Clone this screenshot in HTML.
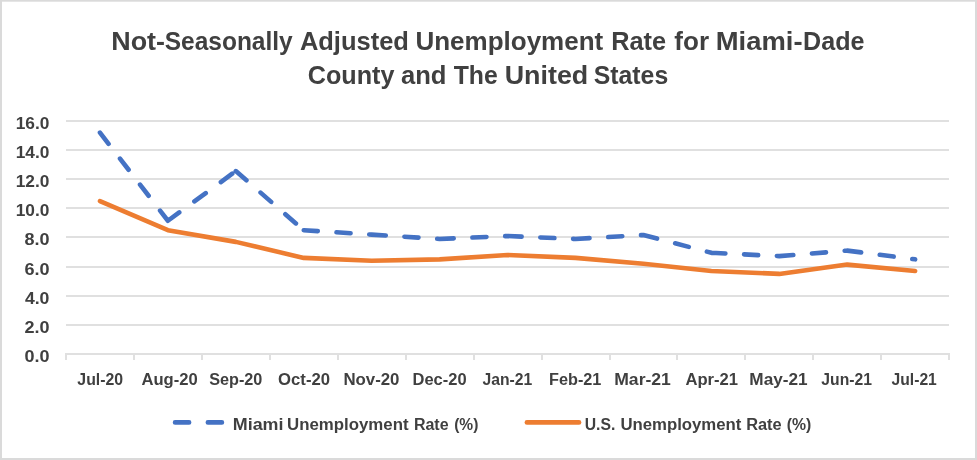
<!DOCTYPE html>
<html><head><meta charset="utf-8"><title>Unemployment Rate Chart</title>
<style>html,body{margin:0;padding:0;background:#fff;}body{width:977px;height:460px;overflow:hidden;}svg{display:block;will-change:transform;}text{font-family:"Liberation Sans",sans-serif;font-weight:bold;fill:#404040;}</style></head><body>
<svg width="977" height="460" viewBox="0 0 977 460">
<rect x="0" y="0" width="977" height="460" fill="#ffffff"/>
<rect x="0" y="0" width="977" height="1.7" fill="#dadada"/>
<rect x="0" y="458" width="977" height="2" fill="#dadada"/>
<rect x="0" y="0" width="2" height="460" fill="#dadada"/>
<rect x="975" y="0" width="2" height="460" fill="#dadada"/>
<rect x="66" y="120" width="883" height="2" fill="#e0e0e0"/>
<rect x="66" y="149" width="883" height="2" fill="#e0e0e0"/>
<rect x="66" y="178" width="883" height="2" fill="#e0e0e0"/>
<rect x="66" y="207" width="883" height="2" fill="#e0e0e0"/>
<rect x="66" y="236" width="883" height="2" fill="#e0e0e0"/>
<rect x="66" y="266" width="883" height="2" fill="#e0e0e0"/>
<rect x="66" y="295" width="883" height="2" fill="#e0e0e0"/>
<rect x="66" y="324" width="883" height="2" fill="#e0e0e0"/>
<rect x="66" y="353" width="883.5" height="2" fill="#e0e0e0"/>
<rect x="65" y="353" width="2" height="7" fill="#e0e0e0"/>
<rect x="133" y="353" width="2" height="7" fill="#e0e0e0"/>
<rect x="201" y="353" width="2" height="7" fill="#e0e0e0"/>
<rect x="269" y="353" width="2" height="7" fill="#e0e0e0"/>
<rect x="337" y="353" width="2" height="7" fill="#e0e0e0"/>
<rect x="405" y="353" width="2" height="7" fill="#e0e0e0"/>
<rect x="473" y="353" width="2" height="7" fill="#e0e0e0"/>
<rect x="541" y="353" width="2" height="7" fill="#e0e0e0"/>
<rect x="609" y="353" width="2" height="7" fill="#e0e0e0"/>
<rect x="676" y="353" width="2" height="7" fill="#e0e0e0"/>
<rect x="744" y="353" width="2" height="7" fill="#e0e0e0"/>
<rect x="812" y="353" width="2" height="7" fill="#e0e0e0"/>
<rect x="880" y="353" width="2" height="7" fill="#e0e0e0"/>
<rect x="948" y="353" width="2" height="7" fill="#e0e0e0"/>
<polyline fill="none" stroke="#ed7d31" stroke-width="4.60" stroke-linecap="round" stroke-linejoin="round" points="99.97,201.09 167.90,230.22 235.83,241.87 303.75,257.89 371.69,260.80 439.62,259.34 507.55,254.98 575.48,257.89 643.41,263.71 711.34,270.99 779.27,273.91 847.20,264.59 915.13,270.99"/>
<path fill="none" stroke="#4472c4" stroke-width="4.60" stroke-linecap="round" stroke-dasharray="14.06 18.75" d="M99.97 132.65L167.90 220.75 M167.90 220.75L235.83 171.09 M235.83 171.09L303.75 230.22 M303.75 230.22L371.69 234.59 M371.69 234.59L439.62 238.96 M439.62 238.96L507.55 236.04 M507.55 236.04L575.48 238.96 M575.48 238.96L643.41 235.02 M643.41 235.02L711.34 252.79 M711.34 252.79L779.27 256.14 M779.27 256.14L847.20 250.61 M847.20 250.61L915.13 259.34"/>
<path fill="none" stroke="#4472c4" stroke-width="4.60" stroke-linecap="round" stroke-dasharray="14.06 18.75" d="M175.05 422.4L227.2 422.4"/>
<path fill="none" stroke="#ed7d31" stroke-width="4.60" stroke-linecap="round" d="M526.9 422.4L579.05 422.4"/>
<text x="111.24" y="50.00" font-size="25.40" textLength="53.76" lengthAdjust="spacingAndGlyphs">Not-</text>
<text x="164.74" y="50.00" font-size="25.40" textLength="127.96" lengthAdjust="spacingAndGlyphs">Seasonally</text>
<text x="299.88" y="50.00" font-size="25.40" textLength="109.04" lengthAdjust="spacingAndGlyphs">Adjusted</text>
<text x="415.43" y="50.00" font-size="25.40" textLength="187.83" lengthAdjust="spacingAndGlyphs">Unemployment</text>
<text x="611.15" y="50.00" font-size="25.40" textLength="54.94" lengthAdjust="spacingAndGlyphs">Rate</text>
<text x="674.38" y="50.00" font-size="25.40" textLength="34.72" lengthAdjust="spacingAndGlyphs">for</text>
<text x="715.77" y="50.00" font-size="25.40" textLength="86.79" lengthAdjust="spacingAndGlyphs">Miami-</text>
<text x="803.07" y="50.00" font-size="25.40" textLength="61.41" lengthAdjust="spacingAndGlyphs">Dade</text>
<text x="307.74" y="83.60" font-size="25.40" textLength="86.69" lengthAdjust="spacingAndGlyphs">County</text>
<text x="400.94" y="83.60" font-size="25.40" textLength="45.53" lengthAdjust="spacingAndGlyphs">and</text>
<text x="453.68" y="83.60" font-size="25.40" textLength="44.06" lengthAdjust="spacingAndGlyphs">The</text>
<text x="504.73" y="83.60" font-size="25.40" textLength="83.54" lengthAdjust="spacingAndGlyphs">United</text>
<text x="593.67" y="83.60" font-size="25.40" textLength="74.54" lengthAdjust="spacingAndGlyphs">States</text>
<text x="77.34" y="384.60" font-size="16.00" textLength="45.76" lengthAdjust="spacingAndGlyphs">Jul-20</text>
<text x="141.48" y="384.60" font-size="16.00" textLength="56.17" lengthAdjust="spacingAndGlyphs">Aug-20</text>
<text x="209.19" y="384.60" font-size="16.00" textLength="53.21" lengthAdjust="spacingAndGlyphs">Sep-20</text>
<text x="278.08" y="384.60" font-size="16.00" textLength="51.92" lengthAdjust="spacingAndGlyphs">Oct-20</text>
<text x="343.41" y="384.60" font-size="16.00" textLength="56.07" lengthAdjust="spacingAndGlyphs">Nov-20</text>
<text x="412.54" y="384.60" font-size="16.00" textLength="54.01" lengthAdjust="spacingAndGlyphs">Dec-20</text>
<text x="482.55" y="384.60" font-size="16.00" textLength="49.71" lengthAdjust="spacingAndGlyphs">Jan-21</text>
<text x="549.07" y="384.60" font-size="16.00" textLength="52.33" lengthAdjust="spacingAndGlyphs">Feb-21</text>
<text x="614.26" y="384.60" font-size="16.00" textLength="56.59" lengthAdjust="spacingAndGlyphs">Mar-21</text>
<text x="685.48" y="384.60" font-size="16.00" textLength="52.55" lengthAdjust="spacingAndGlyphs">Apr-21</text>
<text x="749.33" y="384.60" font-size="16.00" textLength="58.23" lengthAdjust="spacingAndGlyphs">May-21</text>
<text x="821.35" y="384.60" font-size="16.00" textLength="50.55" lengthAdjust="spacingAndGlyphs">Jun-21</text>
<text x="891.60" y="384.60" font-size="16.00" textLength="45.19" lengthAdjust="spacingAndGlyphs">Jul-21</text>
<text x="15.69" y="129.20" font-size="16.00" textLength="33.62" lengthAdjust="spacingAndGlyphs">16.0</text>
<text x="15.69" y="158.20" font-size="16.00" textLength="33.62" lengthAdjust="spacingAndGlyphs">14.0</text>
<text x="15.69" y="187.20" font-size="16.00" textLength="33.62" lengthAdjust="spacingAndGlyphs">12.0</text>
<text x="15.69" y="216.20" font-size="16.00" textLength="33.62" lengthAdjust="spacingAndGlyphs">10.0</text>
<text x="24.42" y="245.20" font-size="16.00" textLength="25.03" lengthAdjust="spacingAndGlyphs">8.0</text>
<text x="24.42" y="275.20" font-size="16.00" textLength="25.08" lengthAdjust="spacingAndGlyphs">6.0</text>
<text x="24.91" y="304.20" font-size="16.00" textLength="24.54" lengthAdjust="spacingAndGlyphs">4.0</text>
<text x="24.42" y="333.20" font-size="16.00" textLength="25.03" lengthAdjust="spacingAndGlyphs">2.0</text>
<text x="24.42" y="362.20" font-size="16.00" textLength="25.01" lengthAdjust="spacingAndGlyphs">0.0</text>
<text x="232.80" y="430.10" font-size="16.00" textLength="50.71" lengthAdjust="spacingAndGlyphs">Miami</text>
<text x="287.05" y="430.10" font-size="16.00" textLength="121.47" lengthAdjust="spacingAndGlyphs">Unemployment</text>
<text x="413.88" y="430.10" font-size="16.00" textLength="34.67" lengthAdjust="spacingAndGlyphs">Rate</text>
<text x="454.14" y="430.10" font-size="16.00" textLength="24.19" lengthAdjust="spacingAndGlyphs">(%)</text>
<text x="584.68" y="430.10" font-size="16.00" textLength="30.64" lengthAdjust="spacingAndGlyphs">U.S.</text>
<text x="620.41" y="430.10" font-size="16.00" textLength="120.98" lengthAdjust="spacingAndGlyphs">Unemployment</text>
<text x="746.15" y="430.10" font-size="16.00" textLength="35.50" lengthAdjust="spacingAndGlyphs">Rate</text>
<text x="786.65" y="430.10" font-size="16.00" textLength="24.55" lengthAdjust="spacingAndGlyphs">(%)</text>
</svg></body></html>
